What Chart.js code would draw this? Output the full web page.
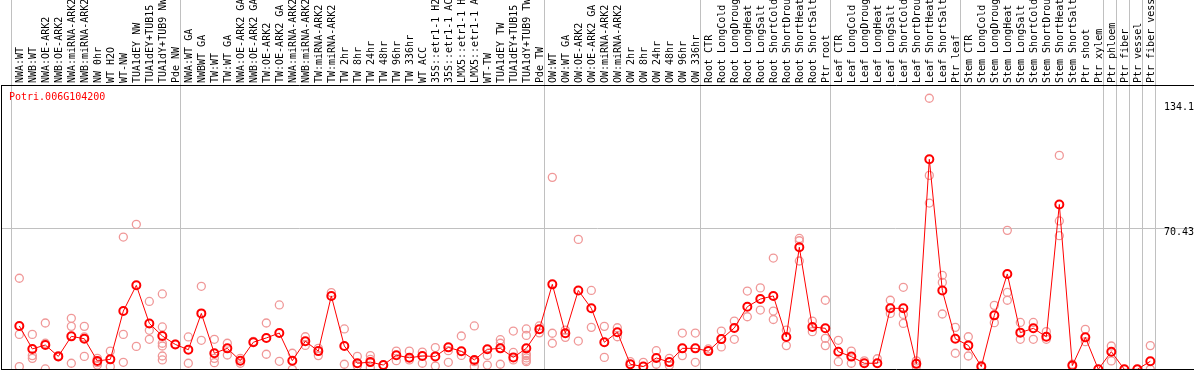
<!DOCTYPE html>
<html>
<head>
<meta charset="utf-8">
<script src="https://cdn.jsdelivr.net/npm/chart.js@4.4.0/dist/chart.umd.min.js"></script>
<style>
  html, body { margin: 0; padding: 0; background: #fff; }
  #wrap { width: 1194px; height: 370px; }
</style>
</head>
<body>
<div id="wrap"><canvas id="efp" width="1194" height="370"></canvas></div>
<script>
// gene shown in the plot
const geneId = "Potri.006G104200";

// sample names, left to right (as they show in the header)
const samples = [
  "NWA:WT", "NWB:WT", "NWA:OE-ARK2", "NWB:OE-ARK2", "NWA:miRNA-ARK2", "NWB:miRNA-ARK2",
  "NW 0hr", "WT H2O", "WT-NW", "TUA1dEY NW", "TUA1dEY+TUB15", "TUA1dY+TUB9 NW", "Pde NW",
  "NWA:WT GA", "NWBWT GA", "TW:WT", "TW:WT GA", "NWA:OE-ARK2 GA", "NWB:OE-ARK2 GA",
  "TW:OE-ARK2", "TW:OE-ARK2 GA", "NWA:miRNA-ARK2", "NWB:miRNA-ARK2", "TW:miRNA-ARK2",
  "TW:miRNA-ARK2", "TW 2hr", "TW 8hr", "TW 24hr", "TW 48hr", "TW 96hr", "TW 336hr",
  "WT ACC", "35S::etr1-1 H2", "35S::etr1-1 AC", "LMX5::etr1-1 H", "LMX5::etr1-1 A",
  "WT-TW", "TUA1dEY TW", "TUA1dEY+TUB15", "TUA1dY+TUB9 TW", "Pde TW",
  "OW:WT", "OW:WT GA", "OW:OE-ARK2", "OW:OE-ARK2 GA", "OW:miRNA-ARK2", "OW:miRNA-ARK2",
  "OW 2hr", "OW 8hr", "OW 24hr", "OW 48hr", "OW 96hr", "OW 336hr",
  "Root CTR", "Root LongCold", "Root LongDroug", "Root LongHeat", "Root LongSalt",
  "Root ShortCold", "Root ShortDrou", "Root ShortHeat", "Root ShortSalt", "Ptr root",
  "Leaf CTR", "Leaf LongCold", "Leaf LongDroug", "Leaf LongHeat", "Leaf LongSalt",
  "Leaf ShortCold", "Leaf ShortDrou", "Leaf ShortHeat", "Leaf ShortSalt", "Ptr leaf",
  "Stem CTR", "Stem LongCold", "Stem LongDroug", "Stem LongHeat", "Stem LongSalt",
  "Stem ShortCold", "Stem ShortDrou", "Stem ShortHeat", "Stem ShortSalt", "Ptr shoot",
  "Ptr xylem", "Ptr phloem", "Ptr fiber", "Ptr vessel", "Ptr fiber vess"
];

// how many samples in each block (gray lines between blocks)
const groupSizes = [13, 28, 12, 10, 10, 11, 1, 1, 1, 1];

// mean value per sample
const means = [
  20.7, 9.0, 11.0, 5.2, 15.4, 14.2, 2.9, 3.7, 28.3, 41.4,
  22.0, 15.6, 11.3, 8.6, 27.1, 6.8, 9.3, 3.0, 12.4, 14.6,
  17.1, 3.0, 12.9, 7.9, 36.0, 10.5, 1.7, 2.3, 0.8, 5.8,
  4.5, 5.4, 5.2, 9.8, 7.8, 3.4, 8.8, 9.3, 4.7, 9.3,
  19.0, 41.9, 17.0, 38.8, 29.7, 12.4, 17.5, 1.2, 0, 4.4,
  2.3, 9.3, 9.3, 7.9, 14.0, 19.7, 30.5, 34.4, 36.0, 15.1,
  60.8, 20.2, 19.5, 7.6, 5.1, 1.7, 1.7, 29.7, 29.7, 1.4,
  105.6, 38.8, 14.2, 10.8, 0, 26.1, 47.2, 17.3, 19.5, 15.2,
  82.6, 0.5, 14.9, -1.4, 7.6, -1.4, -1.4, 2.7
];

// single replicates per sample
const replicates = [
  [45.0, 16.4, 0], [16.4, 5.6, 4.2], [22.2, 11.9, -1.2], [5.6, 5.1], [24.6, 20.5, 1.7],
  [20.5, 15.1, 5.2], [4.2, 2.0, 0.8], [7.9, 0], [66.0, 16.4, 2.2], [72.5, 10.3],
  [33.2, 18.5, 13.9], [37.0, 20.2, 11.9, 10.5, 5.4, 3.4], [11.5], [15.1, 1.7], [40.9, 13.4],
  [13.9, 4.2, 2.0], [11.9, 5.9], [4.2, 1.7], [12.9], [22.2, 6.3],
  [31.4, 2.7], [6.8, -1.4], [15.2, 10.8], [9.3, 5.6], [37.7],
  [19.2, 1.2], [5.2, 0.3], [5.6, 3.7, -0.5], [0.6], [7.9, 3.0],
  [7.9, 3.4], [7.4, 1.7], [9.7, 0.3], [8.1, 2.2], [15.6, 5.7],
  [20.7, 2.5, 0], [5.7, 0.8], [13.7, 11.9, 1.2], [18.1, 7.2, 3.4], [19.2, 15.9, 6.4, 5.6, 4.4, 3.2, 2.5],
  [20.7, 17.2], [96.4, 17.0, 11.9], [18.6, 14.9], [64.8, 13.0], [38.8, 20.0],
  [20.5, 4.7], [19.8, 15.2], [2.5], [2.2], [8.1, 1.2],
  [4.2, 0.6], [17.1, 5.6], [17.1, 2.2], [9.0], [18.1, 10.0],
  [23.2, 13.9], [38.5, 25.4], [40.1, 28.8], [55.3, 28.3, 24.0], [18.6, 10.7],
  [65.3, 64.1, 53.8], [23.2, 17.8], [33.8, 14.4, 10.7], [13.4, 2.5], [7.9, 1.7],
  [2.9], [4.0], [33.8, 27.1], [40.4, 26.6, 22.0], [2.9, 0],
  [136.7, 97.4, 83.3], [46.5, 42.9, 26.8], [20.0, 6.8], [15.2, 5.4], [0.6],
  [31.2, 22.4], [69.4, 37.8, 33.8], [22.5, 13.9], [22.5, 13.9], [17.8, 13.9],
  [107.6, 74.2, 66.7], [1.2], [19.0, 12.7], [-1.4], [10.5, 2.9],
  [-1.4], [-1.4], [10.7, -1.4]
];

// value ticks on the right
const yTicks = [70.43, 134.1];
const yZeroTick = [0];

const FONT = { family: "'DejaVu Sans Mono', monospace", size: 10 };
const xMin = -1.41, xMax = 90.36;
const yMin = -1.22, yMax = 143.45;

// gray separators sit a bit right of the last sample of each block
let separators = [-1 + 0.36];
let end = -1;
groupSizes.forEach(n => { end += n; separators.push(end + 0.36); });

const meanPoints = means.map((v, i) => ({ x: i, y: v }));
const repPoints = [];
replicates.forEach((reps, i) => reps.forEach(v => repPoints.push({ x: i, y: v })));

// scales should not push the plot area around
function noPad(s) {
  s.paddingLeft = 0; s.paddingRight = 0; s.paddingTop = 0; s.paddingBottom = 0;
}

// gene name in the top-left of the plot
const geneLabel = {
  id: 'geneLabel',
  afterDraw(chart) {
    const { ctx, chartArea } = chart;
    ctx.save();
    ctx.font = "10px 'DejaVu Sans Mono'";
    ctx.fillStyle = '#ff0000';
    ctx.textBaseline = 'middle';
    ctx.fillText(geneId, chartArea.left + 8, chartArea.top + 12);
    ctx.restore();
  }
};

new Chart(document.getElementById('efp'), {
  type: 'line',
  data: {
    datasets: [
      {
        data: meanPoints,
        xAxisID: 'x', yAxisID: 'y',
        borderColor: '#ff0000',
        borderWidth: 1,
        tension: 0,
        pointRadius: 4,
        pointBorderWidth: 2,
        pointBorderColor: '#ff0000',
        pointBackgroundColor: 'rgba(0,0,0,0)',
        clip: 0,
        order: 1
      },
      {
        data: repPoints,
        xAxisID: 'x', yAxisID: 'y',
        showLine: false,
        pointRadius: 4,
        pointBorderWidth: 1.3,
        pointBorderColor: '#f09898',
        pointBackgroundColor: 'rgba(0,0,0,0)',
        clip: 0,
        order: 2
      }
    ]
  },
  options: {
    responsive: false,
    animation: false,
    events: [],
    layout: { autoPadding: false, padding: { left: 1, right: 0, top: 0, bottom: 1 } },
    plugins: { legend: { display: false }, tooltip: { enabled: false } },
    scales: {
      x: {
        type: 'linear', position: 'top', min: xMin, max: xMax, weight: 10,
        afterBuildTicks: s => { s.ticks = samples.map((_, i) => ({ value: i })); },
        afterFit: s => { s.height = 85; noPad(s); },
        grid: { display: false, drawTicks: false },
        border: { display: true, color: '#000', width: 1 },
        ticks: {
          autoSkip: false, minRotation: 90, maxRotation: 90, padding: 2, labelOffset: 13,
          color: '#000', font: FONT,
          callback: v => samples[v]
        }
      },
      xs: {
        type: 'linear', position: 'top', min: xMin, max: xMax, weight: 0,
        afterBuildTicks: s => { s.ticks = separators.map(v => ({ value: v })); },
        afterFit: s => { s.height = 0; noPad(s); },
        grid: { color: '#c0c0c0', lineWidth: 1, drawTicks: true, tickLength: 85 },
        border: { display: false },
        ticks: { display: false }
      },
      xb: {
        type: 'linear', position: 'bottom', min: xMin, max: xMax,
        afterFit: s => { s.height = 0; noPad(s); },
        grid: { display: false, drawTicks: false },
        border: { display: true, color: '#000', width: 1 },
        ticks: { display: false }
      },
      y: {
        type: 'linear', position: 'right', min: yMin, max: yMax,
        afterBuildTicks: s => { s.ticks = yTicks.map(v => ({ value: v })); },
        afterFit: s => { s.width = 0; noPad(s); },
        grid: {
          drawTicks: false,
          color: ctx => ctx.index === 0 ? '#c0c0c0' : 'rgba(0,0,0,0)'
        },
        border: { display: false },
        ticks: { mirror: true, padding: 0, labelOffset: 4, color: '#000', font: FONT, callback: v => String(v) }
      },
      y0: {
        type: 'linear', position: 'right', min: yMin, max: yMax,
        afterBuildTicks: s => { s.ticks = yZeroTick.map(v => ({ value: v })); },
        afterFit: s => { s.width = 0; noPad(s); },
        grid: { display: false, drawTicks: false },
        border: { display: false },
        ticks: { mirror: true, padding: 26, labelOffset: -5, color: '#000', font: FONT, callback: v => String(v) }
      },
      yl: {
        type: 'linear', position: 'left', min: yMin, max: yMax,
        afterFit: s => { s.width = 0; noPad(s); },
        grid: { display: false, drawTicks: false },
        border: { display: true, color: '#000', width: 1 },
        ticks: { display: false }
      }
    }
  },
  plugins: [geneLabel]
});
</script>
</body>
</html>
